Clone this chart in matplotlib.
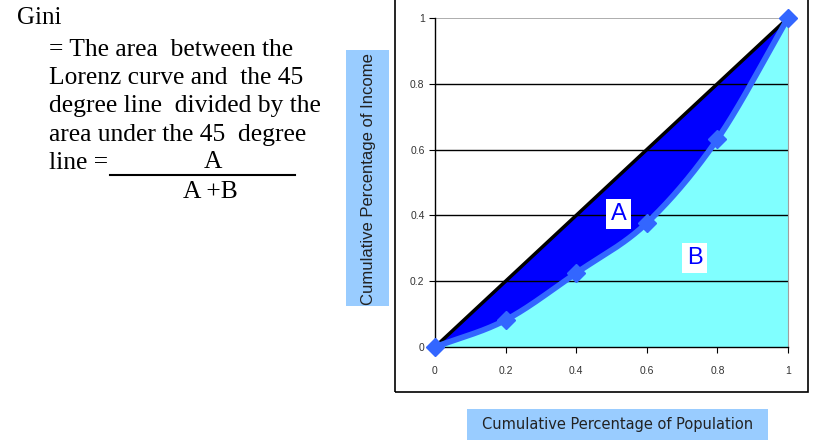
import numpy as np
import matplotlib
matplotlib.use('Agg')
from matplotlib import pyplot as plt
from matplotlib.patches import Rectangle
from matplotlib.lines import Line2D

# cumulative population share vs cumulative income share
population = [0, 0.2, 0.4, 0.6, 0.8, 1.0]
income = [0, 0.082, 0.225, 0.377, 0.632, 1.0]
ticks = [0, 0.2, 0.4, 0.6, 0.8, 1]
tick_labels = ['0', '0.2', '0.4', '0.6', '0.8', '1']

W, H = 816, 441


def fx(px):
    return px / W


def fy(py):
    return 1 - py / H


def box(x0, y0, x1, y1, **kw):
    # rectangle given in pixel corners (top-left origin)
    fig.patches.append(Rectangle((fx(x0), fy(y1)), fx(x1) - fx(x0), fy(y0) - fy(y1),
                                 transform=fig.transFigure, **kw))


def smooth(xs, ys, n=40):
    # catmull-rom through the points, like excel's smoothed line
    xs = np.asarray(xs, float)
    ys = np.asarray(ys, float)
    px = np.concatenate([[2 * xs[0] - xs[1]], xs, [2 * xs[-1] - xs[-2]]])
    py = np.concatenate([[2 * ys[0] - ys[1]], ys, [2 * ys[-1] - ys[-2]]])
    ox, oy = [], []
    for i in range(1, len(px) - 2):
        t = np.linspace(0, 1, n, endpoint=False)
        for p, o in ((px, ox), (py, oy)):
            p0, p1, p2, p3 = p[i - 1], p[i], p[i + 1], p[i + 2]
            o.extend(0.5 * (2 * p1 + (-p0 + p2) * t
                            + (2 * p0 - 5 * p1 + 4 * p2 - p3) * t ** 2
                            + (-p0 + 3 * p1 - 3 * p2 + p3) * t ** 3))
    ox.append(xs[-1])
    oy.append(ys[-1])
    return np.array(ox), np.array(oy)


fig = plt.figure(figsize=(W / 100, H / 100), dpi=100)

# outer frame of the chart object
box(395, -2, 808, 392, fill=False, edgecolor='black', linewidth=1.2)

ax = fig.add_axes([fx(435), fy(347), fx(788) - fx(435), fy(18) - fy(347)])
ax.set_xlim(0, 1)
ax.set_ylim(0, 1)

sx, sy = smooth(population, income)
ax.fill_between(sx, 0, sy, color='#80FFFF', linewidth=0, zorder=1)
ax.fill_between(sx, sy, sx, color='#0000FF', linewidth=0, zorder=1)

for v in ticks[1:-1]:
    ax.axhline(v, color='black', linewidth=1.0, zorder=2)
ax.axhline(1, color='#A0A0A0', linewidth=1.2, zorder=2)

ax.plot([0, 1], [0, 1], color='black', linewidth=2.5, zorder=3)
ax.plot(sx, sy, color='#3366FF', linewidth=4.2, zorder=4, solid_capstyle='round')
ax.plot(population, income, linestyle='none', marker='D', markersize=9,
        color='#3366FF', zorder=5, clip_on=False)

ax.text(0.52, 0.405, 'A', color='#0000FF', fontsize=17, ha='center', va='center',
        family='Liberation Sans', zorder=6,
        bbox=dict(facecolor='white', edgecolor='none', pad=3))
ax.text(0.735, 0.27, 'B', color='#0000FF', fontsize=17, ha='center', va='center',
        family='Liberation Sans', zorder=6,
        bbox=dict(facecolor='white', edgecolor='none', pad=3))

ax.set_xticks(ticks)
ax.set_xticklabels(tick_labels)
ax.set_yticks(ticks)
ax.set_yticklabels(tick_labels)
ax.tick_params(labelsize=7.5, colors='black', labelcolor='#333333', length=4, width=0.8)
for lab in ax.get_xticklabels() + ax.get_yticklabels():
    lab.set_family('Liberation Sans')
ax.tick_params(axis='x', pad=10)
ax.spines['left'].set_linewidth(1.0)
ax.spines['bottom'].set_linewidth(1.0)
ax.spines['top'].set_visible(False)
ax.spines['right'].set_color('#A0A0A0')

# axis titles on their blue boxes
box(346, 50, 389, 306, color='#99CCFF', linewidth=0)
fig.text(fx(368), fy(179), 'Cumulative Percentage of Income', rotation=90,
         ha='center', va='center', fontsize=12, family='Liberation Sans', color='#222222')
box(467, 409, 768, 440, color='#99CCFF', linewidth=0)
fig.text(fx(618), fy(424), 'Cumulative Percentage of Population',
         ha='center', va='center', fontsize=10.5, family='DejaVu Sans', color='#222222')

# gini definition on the left
serif = 'Liberation Serif'
fig.text(fx(17), fy(18), 'Gini', fontsize=18, family=serif, va='center')
lines = ['= The area  between the', 'Lorenz curve and  the 45',
         'degree line  divided by the', 'area under the 45  degree', 'line =']
for i, s in enumerate(lines):
    fig.text(fx(49), fy(50 + 28.2 * i), s, fontsize=18.4, family=serif, va='center')
fig.lines.append(Line2D([fx(110), fx(295)], [fy(175), fy(175)],
                        transform=fig.transFigure, color='black', linewidth=1.5))
fig.text(fx(213), fy(162), 'A', fontsize=18.4, family=serif, ha='center', va='center')
fig.text(fx(210), fy(192), 'A +B', fontsize=18.4, family=serif, ha='center', va='center')

fig.savefig('out.png', dpi=100)
